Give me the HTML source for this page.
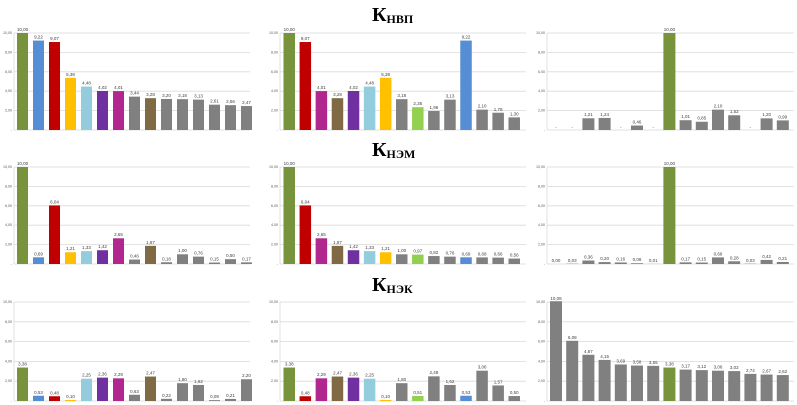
<!DOCTYPE html>
<html><head><meta charset="utf-8"><style>
html,body{margin:0;padding:0;background:#fff;}
svg{display:block;font-family:"Liberation Sans",sans-serif;}
.g line{stroke:#d9d9d9;stroke-width:0.8}
.l text{font-size:4.5px;fill:#404040;text-anchor:middle}
.y text{font-size:3.6px;fill:#595959;text-anchor:end}
.t{font-family:"Liberation Serif","DejaVu Serif",serif;font-weight:bold;fill:#000}
</style></head><body>
<svg width="797" height="405" viewBox="0 0 797 405">
<!-- titles -->
<text class="t" x="372" y="21" font-size="20">К<tspan font-size="12" dy="2">НВП</tspan></text>
<text class="t" x="372" y="156" font-size="20">К<tspan font-size="12" dy="2">НЭМ</tspan></text>
<text class="t" x="372" y="291" font-size="20">К<tspan font-size="12" dy="2">НЭК</tspan></text>

<!-- grids row1 -->
<g class="g">
<line x1="14" x2="250" y1="33" y2="33"/><line x1="14" x2="250" y1="52.4" y2="52.4"/><line x1="14" x2="250" y1="71.8" y2="71.8"/><line x1="14" x2="250" y1="91.2" y2="91.2"/><line x1="14" x2="250" y1="110.6" y2="110.6"/><line x1="14" x2="250" y1="130" y2="130"/><line x1="14" x2="14" y1="33" y2="130"/>
<line x1="280" x2="526" y1="33" y2="33"/><line x1="280" x2="526" y1="52.4" y2="52.4"/><line x1="280" x2="526" y1="71.8" y2="71.8"/><line x1="280" x2="526" y1="91.2" y2="91.2"/><line x1="280" x2="526" y1="110.6" y2="110.6"/><line x1="280" x2="526" y1="130" y2="130"/><line x1="280" x2="280" y1="33" y2="130"/>
<line x1="547" x2="794" y1="33" y2="33"/><line x1="547" x2="794" y1="52.4" y2="52.4"/><line x1="547" x2="794" y1="71.8" y2="71.8"/><line x1="547" x2="794" y1="91.2" y2="91.2"/><line x1="547" x2="794" y1="110.6" y2="110.6"/><line x1="547" x2="794" y1="130" y2="130"/><line x1="547" x2="547" y1="33" y2="130"/>
<!-- row2 -->
<line x1="14" x2="250" y1="167" y2="167"/><line x1="14" x2="250" y1="186.4" y2="186.4"/><line x1="14" x2="250" y1="205.8" y2="205.8"/><line x1="14" x2="250" y1="225.2" y2="225.2"/><line x1="14" x2="250" y1="244.6" y2="244.6"/><line x1="14" x2="250" y1="264" y2="264"/><line x1="14" x2="14" y1="167" y2="264"/>
<line x1="280" x2="526" y1="167" y2="167"/><line x1="280" x2="526" y1="186.4" y2="186.4"/><line x1="280" x2="526" y1="205.8" y2="205.8"/><line x1="280" x2="526" y1="225.2" y2="225.2"/><line x1="280" x2="526" y1="244.6" y2="244.6"/><line x1="280" x2="526" y1="264" y2="264"/><line x1="280" x2="280" y1="167" y2="264"/>
<line x1="547" x2="794" y1="167" y2="167"/><line x1="547" x2="794" y1="186.4" y2="186.4"/><line x1="547" x2="794" y1="205.8" y2="205.8"/><line x1="547" x2="794" y1="225.2" y2="225.2"/><line x1="547" x2="794" y1="244.6" y2="244.6"/><line x1="547" x2="794" y1="264" y2="264"/><line x1="547" x2="547" y1="167" y2="264"/>
<!-- row3 -->
<line x1="14" x2="250" y1="302" y2="302"/><line x1="14" x2="250" y1="321.8" y2="321.8"/><line x1="14" x2="250" y1="341.6" y2="341.6"/><line x1="14" x2="250" y1="361.4" y2="361.4"/><line x1="14" x2="250" y1="381.2" y2="381.2"/><line x1="14" x2="250" y1="401" y2="401"/><line x1="14" x2="14" y1="302" y2="401"/>
<line x1="280" x2="526" y1="302" y2="302"/><line x1="280" x2="526" y1="321.8" y2="321.8"/><line x1="280" x2="526" y1="341.6" y2="341.6"/><line x1="280" x2="526" y1="361.4" y2="361.4"/><line x1="280" x2="526" y1="381.2" y2="381.2"/><line x1="280" x2="526" y1="401" y2="401"/><line x1="280" x2="280" y1="302" y2="401"/>
<line x1="547" x2="794" y1="302" y2="302"/><line x1="547" x2="794" y1="321.8" y2="321.8"/><line x1="547" x2="794" y1="341.6" y2="341.6"/><line x1="547" x2="794" y1="361.4" y2="361.4"/><line x1="547" x2="794" y1="381.2" y2="381.2"/><line x1="547" x2="794" y1="401" y2="401"/><line x1="547" x2="547" y1="302" y2="401"/>
</g>

<!-- y labels -->
<g class="y">
<g transform="translate(12,0)"><text y="34">10,00</text><text y="53.4">8,00</text><text y="72.8">6,00</text><text y="92.2">4,00</text><text y="111.6">2,00</text><text y="131">-</text>
<text y="168">10,00</text><text y="187.4">8,00</text><text y="206.8">6,00</text><text y="226.2">4,00</text><text y="245.6">2,00</text><text y="265">-</text>
<text y="303">10,00</text><text y="322.8">8,00</text><text y="342.6">6,00</text><text y="362.4">4,00</text><text y="382.2">2,00</text><text y="402">-</text></g>
<g transform="translate(278,0)"><text y="34">10,00</text><text y="53.4">8,00</text><text y="72.8">6,00</text><text y="92.2">4,00</text><text y="111.6">2,00</text><text y="131">-</text>
<text y="168">10,00</text><text y="187.4">8,00</text><text y="206.8">6,00</text><text y="226.2">4,00</text><text y="245.6">2,00</text><text y="265">-</text>
<text y="303">10,00</text><text y="322.8">8,00</text><text y="342.6">6,00</text><text y="362.4">4,00</text><text y="382.2">2,00</text><text y="402">-</text></g>
<g transform="translate(545,0)"><text y="34">10,00</text><text y="53.4">8,00</text><text y="72.8">6,00</text><text y="92.2">4,00</text><text y="111.6">2,00</text><text y="131">-</text>
<text y="168">10,00</text><text y="187.4">8,00</text><text y="206.8">6,00</text><text y="226.2">4,00</text><text y="245.6">2,00</text><text y="265">-</text>
<text y="303">10,00</text><text y="322.8">8,00</text><text y="342.6">6,00</text><text y="362.4">4,00</text><text y="382.2">2,00</text><text y="402">-</text></g>
</g>

<!-- R1C1 -->
<g transform="translate(17,130) scale(1,-9.7)">
<rect x="0" width="11" height="10" fill="#77933c"/><rect x="16" width="11" height="9.22" fill="#558ed5"/><rect x="32" width="11" height="9.07" fill="#c00000"/><rect x="48" width="11" height="5.38" fill="#ffc000"/><rect x="64" width="11" height="4.48" fill="#93cddd"/><rect x="80" width="11" height="4.02" fill="#7030a0"/><rect x="96" width="11" height="4.01" fill="#b1278f"/><rect x="112" width="11" height="3.44" fill="#808080"/><rect x="128" width="11" height="3.28" fill="#7f6a43"/><rect x="144" width="11" height="3.20" fill="#808080"/><rect x="160" width="11" height="3.18" fill="#808080"/><rect x="176" width="11" height="3.13" fill="#808080"/><rect x="192" width="11" height="2.61" fill="#808080"/><rect x="208" width="11" height="2.56" fill="#808080"/><rect x="224" width="11" height="2.47" fill="#808080"/>
</g>
<g class="l" transform="translate(22.5,130)">
<text x="0" y="-99">10,00</text><text x="16" y="-91.5">9,22</text><text x="32" y="-90">9,07</text><text x="48" y="-54">5,38</text><text x="64" y="-45.5">4,48</text><text x="80" y="-41">4,02</text><text x="96" y="-41">4,01</text><text x="112" y="-35.5">3,44</text><text x="128" y="-34">3,28</text><text x="144" y="-33">3,20</text><text x="160" y="-33">3,18</text><text x="176" y="-32.5">3,13</text><text x="192" y="-27.5">2,61</text><text x="208" y="-27">2,56</text><text x="224" y="-26">2,47</text>
</g>

<!-- R1C2 -->
<g transform="translate(283.5,130) scale(1,-9.7)">
<rect x="0" width="11.5" height="10" fill="#77933c"/><rect x="16.07" width="11.5" height="9.07" fill="#c00000"/><rect x="32.14" width="11.5" height="4.01" fill="#b1278f"/><rect x="48.21" width="11.5" height="3.28" fill="#7f6a43"/><rect x="64.28" width="11.5" height="4.02" fill="#7030a0"/><rect x="80.35" width="11.5" height="4.48" fill="#93cddd"/><rect x="96.42" width="11.5" height="5.38" fill="#ffc000"/><rect x="112.49" width="11.5" height="3.18" fill="#808080"/><rect x="128.56" width="11.5" height="2.35" fill="#92d050"/><rect x="144.63" width="11.5" height="1.96" fill="#808080"/><rect x="160.7" width="11.5" height="3.13" fill="#808080"/><rect x="176.77" width="11.5" height="9.22" fill="#558ed5"/><rect x="192.84" width="11.5" height="2.10" fill="#808080"/><rect x="208.91" width="11.5" height="1.78" fill="#808080"/><rect x="224.98" width="11.5" height="1.30" fill="#808080"/>
</g>
<g class="l" transform="translate(289.25,130)">
<text x="0" y="-99">10,00</text><text x="16.07" y="-90">9,07</text><text x="32.14" y="-41">4,01</text><text x="48.21" y="-34">3,28</text><text x="64.28" y="-41">4,02</text><text x="80.35" y="-45.5">4,48</text><text x="96.42" y="-54">5,38</text><text x="112.49" y="-33">3,18</text><text x="128.56" y="-25">2,35</text><text x="144.63" y="-21">1,96</text><text x="160.7" y="-32.5">3,13</text><text x="176.77" y="-91.5">9,22</text><text x="192.84" y="-22.5">2,10</text><text x="208.91" y="-19">1,78</text><text x="224.98" y="-14.5">1,30</text>
</g>

<!-- R1C3 -->
<g transform="translate(550,130) scale(1,-9.7)">
<rect x="32.4" width="12" height="1.21" fill="#808080"/><rect x="48.6" width="12" height="1.24" fill="#808080"/><rect x="81" width="12" height="0.46" fill="#808080"/><rect x="113.4" width="12" height="10" fill="#77933c"/><rect x="129.6" width="12" height="1.01" fill="#808080"/><rect x="145.8" width="12" height="0.85" fill="#808080"/><rect x="162" width="12" height="2.10" fill="#808080"/><rect x="178.2" width="12" height="1.52" fill="#808080"/><rect x="210.6" width="12" height="1.20" fill="#808080"/><rect x="226.8" width="12" height="0.99" fill="#808080"/>
</g>
<g class="l" transform="translate(556,130)">
<text x="0" y="-1">-</text><text x="16.2" y="-1">-</text><text x="32.4" y="-14">1,21</text><text x="48.6" y="-14">1,24</text><text x="64.8" y="-1">-</text><text x="81" y="-6.5">0,46</text><text x="97.2" y="-1">-</text><text x="113.4" y="-99">10,00</text><text x="129.6" y="-12">1,01</text><text x="145.8" y="-10.5">0,85</text><text x="162" y="-22.5">2,10</text><text x="178.2" y="-17">1,52</text><text x="194.4" y="-1">-</text><text x="210.6" y="-14">1,20</text><text x="226.8" y="-11.5">0,99</text>
</g>

<!-- R2C1 -->
<g transform="translate(17,264) scale(1,-9.7)">
<rect x="0" width="11" height="10" fill="#77933c"/><rect x="16" width="11" height="0.69" fill="#558ed5"/><rect x="32" width="11" height="6.04" fill="#c00000"/><rect x="48" width="11" height="1.21" fill="#ffc000"/><rect x="64" width="11" height="1.33" fill="#93cddd"/><rect x="80" width="11" height="1.42" fill="#7030a0"/><rect x="96" width="11" height="2.65" fill="#b1278f"/><rect x="112" width="11" height="0.46" fill="#808080"/><rect x="128" width="11" height="1.87" fill="#7f6a43"/><rect x="144" width="11" height="0.18" fill="#808080"/><rect x="160" width="11" height="1.00" fill="#808080"/><rect x="176" width="11" height="0.76" fill="#808080"/><rect x="192" width="11" height="0.15" fill="#808080"/><rect x="208" width="11" height="0.50" fill="#808080"/><rect x="224" width="11" height="0.17" fill="#808080"/>
</g>
<g class="l" transform="translate(22.5,264)">
<text x="0" y="-99">10,00</text><text x="16" y="-8.5">0,69</text><text x="32" y="-60.5">6,04</text><text x="48" y="-14">1,21</text><text x="64" y="-15">1,33</text><text x="80" y="-16">1,42</text><text x="96" y="-28">2,65</text><text x="112" y="-6.5">0,46</text><text x="128" y="-20">1,87</text><text x="144" y="-3.5">0,18</text><text x="160" y="-12">1,00</text><text x="176" y="-9.5">0,76</text><text x="192" y="-3.5">0,15</text><text x="208" y="-7">0,50</text><text x="224" y="-3.5">0,17</text>
</g>

<!-- R2C2 -->
<g transform="translate(283.5,264) scale(1,-9.7)">
<rect x="0" width="11.5" height="10" fill="#77933c"/><rect x="16.07" width="11.5" height="6.04" fill="#c00000"/><rect x="32.14" width="11.5" height="2.65" fill="#b1278f"/><rect x="48.21" width="11.5" height="1.87" fill="#7f6a43"/><rect x="64.28" width="11.5" height="1.42" fill="#7030a0"/><rect x="80.35" width="11.5" height="1.33" fill="#93cddd"/><rect x="96.42" width="11.5" height="1.21" fill="#ffc000"/><rect x="112.49" width="11.5" height="1.00" fill="#808080"/><rect x="128.56" width="11.5" height="0.97" fill="#92d050"/><rect x="144.63" width="11.5" height="0.82" fill="#808080"/><rect x="160.7" width="11.5" height="0.76" fill="#808080"/><rect x="176.77" width="11.5" height="0.69" fill="#558ed5"/><rect x="192.84" width="11.5" height="0.68" fill="#808080"/><rect x="208.91" width="11.5" height="0.66" fill="#808080"/><rect x="224.98" width="11.5" height="0.56" fill="#808080"/>
</g>
<g class="l" transform="translate(289.25,264)">
<text x="0" y="-99">10,00</text><text x="16.07" y="-60.5">6,04</text><text x="32.14" y="-28">2,65</text><text x="48.21" y="-20">1,87</text><text x="64.28" y="-16">1,42</text><text x="80.35" y="-15">1,33</text><text x="96.42" y="-14">1,21</text><text x="112.49" y="-12">1,00</text><text x="128.56" y="-11.5">0,97</text><text x="144.63" y="-10">0,82</text><text x="160.7" y="-9.5">0,76</text><text x="176.77" y="-8.5">0,69</text><text x="192.84" y="-8.5">0,68</text><text x="208.91" y="-8.5">0,66</text><text x="224.98" y="-7.5">0,56</text>
</g>

<!-- R2C3 -->
<g transform="translate(550,264) scale(1,-9.7)">
<rect x="16.2" width="12" height="0.03" fill="#808080"/><rect x="32.4" width="12" height="0.36" fill="#808080"/><rect x="48.6" width="12" height="0.20" fill="#808080"/><rect x="64.8" width="12" height="0.16" fill="#808080"/><rect x="81" width="12" height="0.08" fill="#808080"/><rect x="97.2" width="12" height="0.01" fill="#808080"/><rect x="113.4" width="12" height="10" fill="#77933c"/><rect x="129.6" width="12" height="0.17" fill="#808080"/><rect x="145.8" width="12" height="0.15" fill="#808080"/><rect x="162" width="12" height="0.68" fill="#808080"/><rect x="178.2" width="12" height="0.28" fill="#808080"/><rect x="194.4" width="12" height="0.03" fill="#808080"/><rect x="210.6" width="12" height="0.42" fill="#808080"/><rect x="226.8" width="12" height="0.21" fill="#808080"/>
</g>
<g class="l" transform="translate(556,264)">
<text x="0" y="-2">0,00</text><text x="16.2" y="-2">0,03</text><text x="32.4" y="-5.5">0,36</text><text x="48.6" y="-4">0,20</text><text x="64.8" y="-3.5">0,16</text><text x="81" y="-3">0,08</text><text x="97.2" y="-2">0,01</text><text x="113.4" y="-99">10,00</text><text x="129.6" y="-3.5">0,17</text><text x="145.8" y="-3.5">0,15</text><text x="162" y="-8.5">0,68</text><text x="178.2" y="-4.5">0,28</text><text x="194.4" y="-2">0,03</text><text x="210.6" y="-6">0,42</text><text x="226.8" y="-4">0,21</text>
</g>

<!-- R3C1 -->
<g transform="translate(17,401) scale(1,-9.9)">
<rect x="0" width="11" height="3.38" fill="#77933c"/><rect x="16" width="11" height="0.53" fill="#558ed5"/><rect x="32" width="11" height="0.48" fill="#c00000"/><rect x="48" width="11" height="0.10" fill="#ffc000"/><rect x="64" width="11" height="2.25" fill="#93cddd"/><rect x="80" width="11" height="2.36" fill="#7030a0"/><rect x="96" width="11" height="2.29" fill="#b1278f"/><rect x="112" width="11" height="0.63" fill="#808080"/><rect x="128" width="11" height="2.47" fill="#7f6a43"/><rect x="144" width="11" height="0.22" fill="#808080"/><rect x="160" width="11" height="1.80" fill="#808080"/><rect x="176" width="11" height="1.62" fill="#808080"/><rect x="192" width="11" height="0.09" fill="#808080"/><rect x="208" width="11" height="0.21" fill="#808080"/><rect x="224" width="11" height="2.20" fill="#808080"/>
</g>
<g class="l" transform="translate(22.5,401)">
<text x="0" y="-35.5">3,38</text><text x="16" y="-7">0,53</text><text x="32" y="-6.5">0,48</text><text x="48" y="-3">0,10</text><text x="64" y="-24.5">2,25</text><text x="80" y="-25.5">2,36</text><text x="96" y="-25">2,29</text><text x="112" y="-8">0,63</text><text x="128" y="-26.5">2,47</text><text x="144" y="-4">0,22</text><text x="160" y="-20">1,80</text><text x="176" y="-18">1,62</text><text x="192" y="-3">0,09</text><text x="208" y="-4">0,21</text><text x="224" y="-24">2,20</text>
</g>

<!-- R3C2 -->
<g transform="translate(283.5,401) scale(1,-9.9)">
<rect x="0" width="11.5" height="3.38" fill="#77933c"/><rect x="16.07" width="11.5" height="0.48" fill="#c00000"/><rect x="32.14" width="11.5" height="2.29" fill="#b1278f"/><rect x="48.21" width="11.5" height="2.47" fill="#7f6a43"/><rect x="64.28" width="11.5" height="2.36" fill="#7030a0"/><rect x="80.35" width="11.5" height="2.25" fill="#93cddd"/><rect x="96.42" width="11.5" height="0.10" fill="#ffc000"/><rect x="112.49" width="11.5" height="1.80" fill="#808080"/><rect x="128.56" width="11.5" height="0.51" fill="#92d050"/><rect x="144.63" width="11.5" height="2.49" fill="#808080"/><rect x="160.7" width="11.5" height="1.62" fill="#808080"/><rect x="176.77" width="11.5" height="0.53" fill="#558ed5"/><rect x="192.84" width="11.5" height="3.06" fill="#808080"/><rect x="208.91" width="11.5" height="1.57" fill="#808080"/><rect x="224.98" width="11.5" height="0.50" fill="#808080"/>
</g>
<g class="l" transform="translate(289.25,401)">
<text x="0" y="-35.5">3,38</text><text x="16.07" y="-6.5">0,48</text><text x="32.14" y="-25">2,29</text><text x="48.21" y="-26.5">2,47</text><text x="64.28" y="-25.5">2,36</text><text x="80.35" y="-24.5">2,25</text><text x="96.42" y="-3">0,10</text><text x="112.49" y="-20">1,80</text><text x="128.56" y="-7">0,51</text><text x="144.63" y="-27">2,49</text><text x="160.7" y="-18">1,62</text><text x="176.77" y="-7">0,53</text><text x="192.84" y="-32.5">3,06</text><text x="208.91" y="-17.5">1,57</text><text x="224.98" y="-7">0,50</text>
</g>

<!-- R3C3 -->
<g transform="translate(550,401) scale(1,-9.9)">
<rect x="0" width="12" height="10.08" fill="#808080"/><rect x="16.2" width="12" height="6.08" fill="#808080"/><rect x="32.4" width="12" height="4.67" fill="#808080"/><rect x="48.6" width="12" height="4.15" fill="#808080"/><rect x="64.8" width="12" height="3.69" fill="#808080"/><rect x="81" width="12" height="3.58" fill="#808080"/><rect x="97.2" width="12" height="3.55" fill="#808080"/><rect x="113.4" width="12" height="3.38" fill="#77933c"/><rect x="129.6" width="12" height="3.17" fill="#808080"/><rect x="145.8" width="12" height="3.12" fill="#808080"/><rect x="162" width="12" height="3.06" fill="#808080"/><rect x="178.2" width="12" height="3.02" fill="#808080"/><rect x="194.4" width="12" height="2.74" fill="#808080"/><rect x="210.6" width="12" height="2.67" fill="#808080"/><rect x="226.8" width="12" height="2.62" fill="#808080"/>
</g>
<g class="l" transform="translate(556,401)">
<text x="0" y="-101">10,08</text><text x="16.2" y="-62">6,08</text><text x="32.4" y="-48">4,67</text><text x="48.6" y="-43">4,15</text><text x="64.8" y="-38.5">3,69</text><text x="81" y="-37.5">3,58</text><text x="97.2" y="-37">3,55</text><text x="113.4" y="-35.5">3,38</text><text x="129.6" y="-33.5">3,17</text><text x="145.8" y="-33">3,12</text><text x="162" y="-32.5">3,06</text><text x="178.2" y="-32">3,02</text><text x="194.4" y="-29">2,74</text><text x="210.6" y="-28.5">2,67</text><text x="226.8" y="-28">2,62</text>
</g>
</svg>
</body></html>
